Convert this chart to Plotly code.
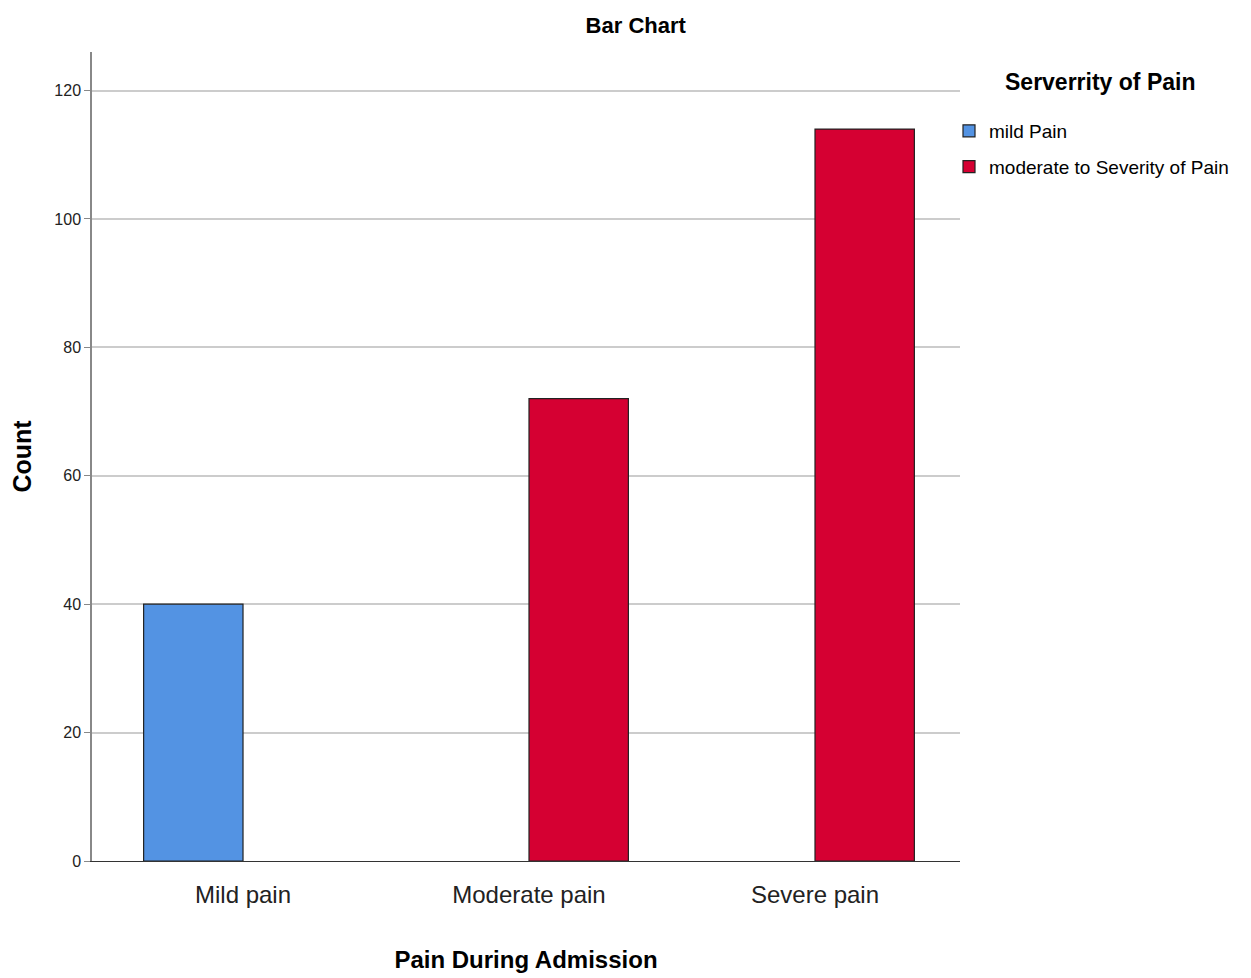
import plotly.graph_objects as go

categories = ["Mild pain", "Moderate pain", "Severe pain"]
mild_values = [40, None, None]
moderate_values = [None, 72, 114]
series_names = ["mild Pain", "moderate to Severity of Pain"]
legend_title = "Serverrity of Pain"
y_ticks = [0, 20, 40, 60, 80, 100, 120]

FONT = "Liberation Sans, Arial, sans-serif"

W, H = 1243, 970
L, T, R, B = 84, 44, 0, 117
plot_w = 868
paper_w = W - L - R

fig = go.Figure()
fig.add_trace(go.Bar(x=categories, y=mild_values, name=series_names[0], legendgroup="a",
                     marker=dict(color="#5393E3", line=dict(color="#222222", width=1.2))))
fig.add_trace(go.Bar(x=categories, y=moderate_values, name=series_names[1], legendgroup="b",
                     marker=dict(color="#D50032", line=dict(color="#222222", width=1.2))))

fig.update_layout(
    width=W, height=H,
    margin=dict(l=L, r=R, t=T, b=B),
    paper_bgcolor="white", plot_bgcolor="white",
    barmode="group", bargap=0.305, bargroupgap=0,
    title=dict(text="<b>Bar Chart</b>", x=0.505, xanchor="center", y=1 - 17 / H, yanchor="middle",
               font=dict(family=FONT, size=22, color="black")),
    legend=dict(x=(949 - 92) / paper_w, xanchor="left", y=(861 - 112) / 809, yanchor="top",
                font=dict(family=FONT, size=19, color="black"),
                traceorder="grouped", tracegroupgap=8, bgcolor="rgba(0,0,0,0)"),
    annotations=[dict(text="<b>" + legend_title + "</b>", xref="paper", yref="paper",
                      x=(1100 - 92) / paper_w, y=(861 - 82) / 809, xanchor="center", yanchor="middle",
                      showarrow=False, font=dict(family=FONT, size=23, color="black"))],
    font=dict(family=FONT, color="black"),
)
fig.update_xaxes(
    domain=[0, plot_w / paper_w], automargin=False, range=[-0.528, 2.507],
    showline=True, linecolor="#333333", linewidth=1.2, showgrid=False,
    ticks="outside", ticklen=12, tickcolor="rgba(0,0,0,0)",
    tickfont=dict(family=FONT, size=24, color="#222222"),
    title=dict(text="<b>Pain During Admission</b>", standoff=44,
               font=dict(family=FONT, size=24, color="black")),
)
fig.update_yaxes(
    range=[0, 126], tickvals=y_ticks, automargin=False,
    showline=True, linecolor="#888888", linewidth=1.5,
    showgrid=True, gridcolor="#CCCCCC", gridwidth=2, zeroline=False,
    ticks="outside", ticklen=6, tickcolor="#888888",
    tickfont=dict(family=FONT, size=16, color="#222222"),
    title=dict(text="<b>Count</b>", standoff=22,
               font=dict(family=FONT, size=25, color="black")),
)

fig.write_html("out.html")
